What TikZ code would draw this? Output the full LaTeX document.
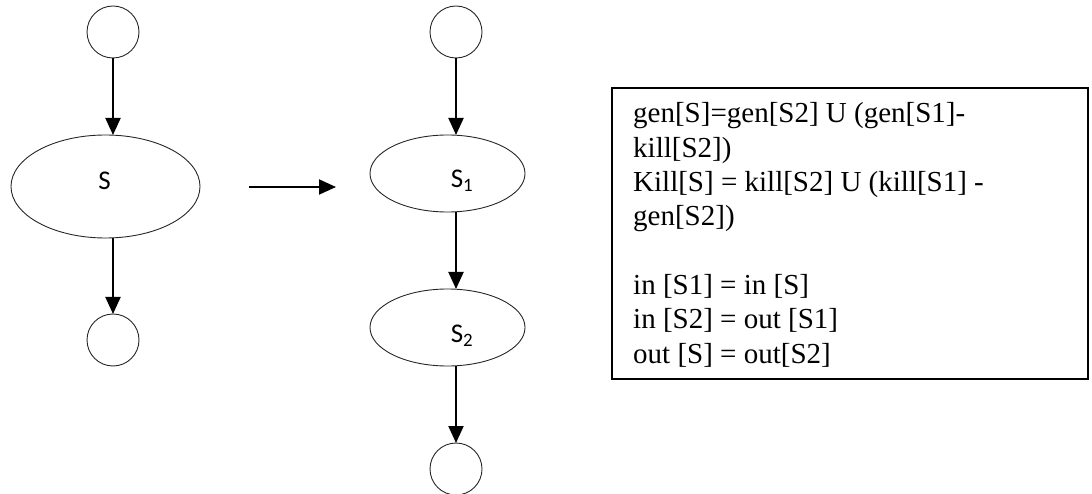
\documentclass[tikz,border=0pt]{standalone}
\usepackage{fontspec}
\setmainfont{Liberation Serif}
\newfontfamily\labfont{Carlito}
\usetikzlibrary{shapes.geometric,arrows.meta}
\begin{document}
\begin{tikzpicture}[x=1pt,y=-1pt,
  pt/.style={circle,draw=black!85,line width=0.9pt,minimum size=52pt,inner sep=0pt,outer sep=0pt},
  stmt/.style={ellipse,draw=black!85,line width=0.9pt,inner sep=0pt,outer sep=0pt},
  lab/.style={font=\labfont\fontsize{27}{30}\selectfont,inner sep=0pt},
  flow/.style={line width=2pt,-{Triangle[width=15pt,length=17pt]}},
  txt/.style={anchor=base west,inner sep=0pt,font=\fontsize{29}{34}\selectfont},
  frame/.style={draw=black,line width=1.8pt,inner sep=0pt}]
\useasboundingbox (0,0) rectangle (1092,494);
% left column
\node[pt] (a1) at (113,32) {};
\node[stmt,minimum width=189pt,minimum height=103pt] (S) at (105.5,186.5) {};
\node[lab] (lS) at (104.5,181) {S};
\node[pt] (a2) at (113,340) {};
\draw[flow] (a1.south) -- (a1.south |- S.north);
\draw[flow] (S.south -| a2.north) -- (a2.north);
% transformation arrow
\coordinate (h1) at (249,187);
\coordinate (h2) at (336,187);
\draw[flow] (h1) -- (h2);
% middle column
\node[pt] (b1) at (456,32) {};
\node[stmt,minimum width=155pt,minimum height=77pt] (S1) at (447.5,173.5) {};
\node[lab] (lS1) at (462,181) {S\textsubscript{1}};
\node[stmt,minimum width=155pt,minimum height=77pt] (S2) at (447.5,327.5) {};
\node[lab] (lS2) at (462,335.5) {S\textsubscript{2}};
\node[pt] (b2) at (456,469) {};
\draw[flow] (b1.south) -- (b1.south |- S1.north);
\draw[flow] (S1.south -| b1.south) -- (b1.south |- S2.north);
\draw[flow] (S2.south -| b2.north) -- (b2.north);
% equations box
\node[frame,minimum width=476pt,minimum height=291pt] (box) at (850,233.5) {};
\node[txt] (t1) at (633,123) {gen[S]=gen[S2] U (gen[S1]-};
\node[txt] (t2) at (633,157.3) {kill[S2])};
\node[txt] (t3) at (633,191.6) {Kill[S] = kill[S2] U (kill[S1] -};
\node[txt] (t4) at (633,225.9) {gen[S2])};
\node[txt] (t5) at (633,294.5) {in [S1] = in [S]};
\node[txt] (t6) at (633,328.8) {in [S2] = out [S1]};
\node[txt] (t7) at (633,363.1) {out [S] = out[S2]};
\end{tikzpicture}
\end{document}
